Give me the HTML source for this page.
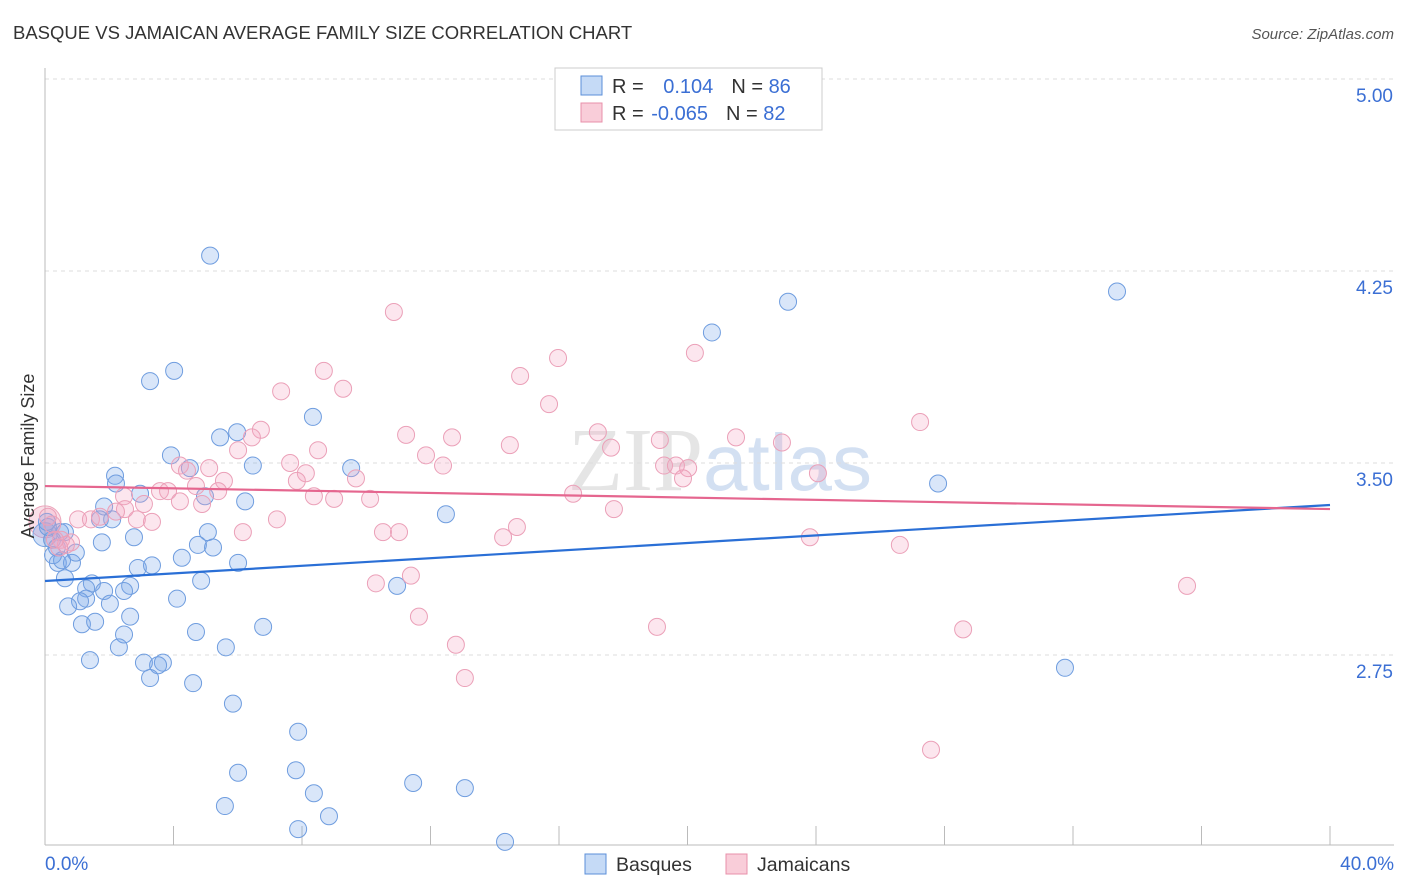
<!DOCTYPE html>
<html><head><meta charset="utf-8"><style>
body{margin:0;background:#fff;font-family:"Liberation Sans",sans-serif;}
</style></head><body>
<svg id="chart" width="1406" height="892" xmlns="http://www.w3.org/2000/svg" style="display:block">
<text x="13" y="39" font-size="18.5" fill="#333">BASQUE VS JAMAICAN AVERAGE FAMILY SIZE CORRELATION CHART</text>
<text x="1394" y="39" font-size="15" fill="#555" text-anchor="end" font-style="italic">Source: ZipAtlas.com</text>
<text x="720" y="490" font-size="90" fill="#ccc" opacity="0.5" text-anchor="middle" font-family="Liberation Serif, serif">ZIP<tspan fill="#a8c2e6" font-family="Liberation Sans, sans-serif" font-size="80">atlas</tspan></text>
<g id="grid"></g><g id="axes"></g><g id="pts"></g><g id="lines"></g>
<text transform="translate(34,456) rotate(-90)" font-size="18" fill="#333" text-anchor="middle">Average Family Size</text>
<text x="45" y="870" font-size="19" fill="#3b6fd4">0.0%</text>
<text x="1394" y="870" font-size="19" fill="#3b6fd4" text-anchor="end">40.0%</text>
<g>
<rect x="555" y="68" width="267" height="62" fill="#fff" stroke="#ccc"/>
<rect x="581" y="76" width="21" height="19" fill="#c5daf6" stroke="#5b8fd8"/>
<rect x="581" y="103" width="21" height="19" fill="#f9cdd9" stroke="#e890aa"/>
<text x="612" y="93" font-size="20" fill="#333">R = <tspan fill="#3b6fd4" dx="14">0.104</tspan><tspan dx="18" fill="#333">N = </tspan><tspan fill="#3b6fd4">86</tspan></text>
<text x="612" y="120" font-size="20" fill="#333">R = <tspan fill="#3b6fd4" dx="2">-0.065</tspan><tspan dx="18" fill="#333">N = </tspan><tspan fill="#3b6fd4">82</tspan></text>
</g>
<g>
<rect x="585" y="854" width="21" height="20" fill="#c5daf6" stroke="#5b8fd8"/>
<text x="616" y="871" font-size="19.5" fill="#333">Basques</text>
<rect x="726" y="854" width="21" height="20" fill="#f9cdd9" stroke="#e890aa"/>
<text x="757" y="871" font-size="19.5" fill="#333">Jamaicans</text>
</g>
</svg>
<script>
const yTicks=[2.75,3.5,4.25,5.0];
const yTickLabels=["2.75","3.50","4.25","5.00"];
const blueX=[5.14,4.02,3.27,8.34,5.45,5.98,3.92,4.51,6.47,9.53,2.18,2.21,2.96,4.98,6.23,1.84,1.71,2.09,12.48,5.07,2.77,0.47,0.62,0.22,1.77,4.76,5.23,4.26,3.33,2.89,6.01,0.40,0.84,0.37,0.96,0.62,1.46,1.28,2.65,2.46,1.84,4.86,4.11,1.28,1.09,2.02,0.72,2.65,1.15,1.56,2.46,4.70,6.79,2.30,5.63,1.40,3.08,3.67,3.52,3.27,4.61,5.85,7.88,6.01,7.81,5.60,8.37,8.84,7.88,11.46,13.07,14.32,10.96,23.13,20.76,33.37,27.80,31.75,0.53,0.09,0.25,0.06];
const blueY=[4.31,3.86,3.82,3.68,3.60,3.62,3.53,3.48,3.49,3.48,3.45,3.42,3.38,3.37,3.35,3.33,3.28,3.28,3.30,3.23,3.21,3.23,3.23,3.20,3.19,3.18,3.17,3.13,3.10,3.09,3.11,3.11,3.11,3.17,3.15,3.05,3.03,3.01,3.02,3.00,3.00,3.04,2.97,2.97,2.96,2.95,2.94,2.90,2.87,2.88,2.83,2.84,2.86,2.78,2.78,2.73,2.72,2.72,2.71,2.66,2.64,2.56,2.45,2.29,2.30,2.16,2.21,2.12,2.07,2.25,2.23,2.02,3.02,4.13,4.01,4.17,3.42,2.70,3.12,3.25,3.14,3.27];
const pinkX=[10.86,8.68,15.97,14.79,20.23,7.35,9.28,15.69,27.24,6.72,6.44,11.24,12.67,14.47,17.21,17.62,19.14,21.51,22.94,8.50,6.01,11.86,12.39,7.63,8.12,4.20,5.11,4.42,19.27,20.02,19.64,19.86,24.06,9.68,5.57,4.70,5.39,3.58,3.83,7.84,8.37,9.00,10.12,16.44,2.46,4.20,3.08,4.89,2.49,2.21,17.71,1.03,1.43,1.71,2.86,3.33,7.22,14.69,6.16,10.52,11.02,14.26,23.81,26.61,0.50,0.81,0.65,0.44,0.31,10.30,11.39,11.64,19.05,28.58,35.55,12.79,13.07,27.58,0.22,0.09];
const pinkY=[4.09,3.86,3.91,3.84,3.93,3.78,3.79,3.73,3.66,3.63,3.60,3.61,3.60,3.57,3.62,3.56,3.59,3.60,3.58,3.55,3.55,3.53,3.49,3.50,3.46,3.49,3.48,3.47,3.49,3.48,3.49,3.44,3.46,3.44,3.43,3.41,3.39,3.39,3.39,3.43,3.37,3.36,3.36,3.38,3.37,3.35,3.34,3.34,3.32,3.31,3.32,3.28,3.28,3.29,3.28,3.27,3.28,3.25,3.23,3.23,3.23,3.21,3.21,3.18,3.20,3.19,3.18,3.17,3.20,3.03,3.06,2.90,2.86,2.85,3.02,2.79,2.66,2.38,3.26,3.29];
const blueTrend=[3.039,3.336];
const pinkTrend=[3.41,3.32];
const NS="http://www.w3.org/2000/svg";
const X0=45,X1=1330,YT=79,YB=845;
function xs(v){return X0+(v/40)*(X1-X0);}
function ys(v){return 463-(v-3.5)*256;}
function mk(t,a,p){const e=document.createElementNS(NS,t);for(const k in a)e.setAttribute(k,a[k]);p.appendChild(e);return e;}
const grid=document.getElementById('grid'),axes=document.getElementById('axes'),pts=document.getElementById('pts'),lines=document.getElementById('lines'),svg=document.getElementById('chart');
yTicks.forEach((t,i)=>{
 const l=mk('line',{x1:X0,x2:1394,y1:ys(t),y2:ys(t),stroke:'#ddd','stroke-dasharray':'4,4'},grid);
 
 
 const tx=mk('text',{x:1393,y:ys(t)+23,'font-size':19,fill:'#3b6fd4','text-anchor':'end'},svg);
 tx.textContent=yTickLabels[i];
 
 
});
const ax=mk('line',{x1:X0,x2:X0,y1:68,y2:YB,stroke:'#bbb'},axes);


const bx=mk('line',{x1:X0,x2:1394,y1:YB,y2:YB,stroke:'#bbb'},axes);


for(let i=0;i<=10;i++){
 const t=mk('line',{x1:xs(i*4),x2:xs(i*4),y1:826,y2:YB,stroke:'#bbb'},axes);
 
 
}
const big1=mk('circle',{cx:xs(0),cy:ys(3.27),r:16,fill:'rgba(240,150,180,0.3)',stroke:'#eca5bb'},pts);


const big2=mk('circle',{cx:xs(0),cy:ys(3.22),r:12,fill:'rgba(100,150,230,0.3)',stroke:'#7ba6e2'},pts);


blueX.forEach((x,i)=>{
 const c=mk('circle',{cx:xs(x),cy:ys(blueY[i]),r:8.5,fill:'rgba(120,165,235,0.28)',stroke:'#6f9ddf','stroke-width':1},pts);
 
 
});
pinkX.forEach((x,i)=>{
 const c=mk('circle',{cx:xs(x),cy:ys(pinkY[i]),r:8.5,fill:'rgba(245,165,195,0.28)',stroke:'#eba0b8','stroke-width':1},pts);
 
 
});
const bl=mk('line',{x1:xs(0),x2:xs(40),y1:ys(blueTrend[0]),y2:ys(blueTrend[1]),stroke:'#2a6fd6','stroke-width':2.2},lines);


const pl=mk('line',{x1:xs(0),x2:xs(40),y1:ys(pinkTrend[0]),y2:ys(pinkTrend[1]),stroke:'#e5668f','stroke-width':2.2},lines);


</script>
</body></html>
